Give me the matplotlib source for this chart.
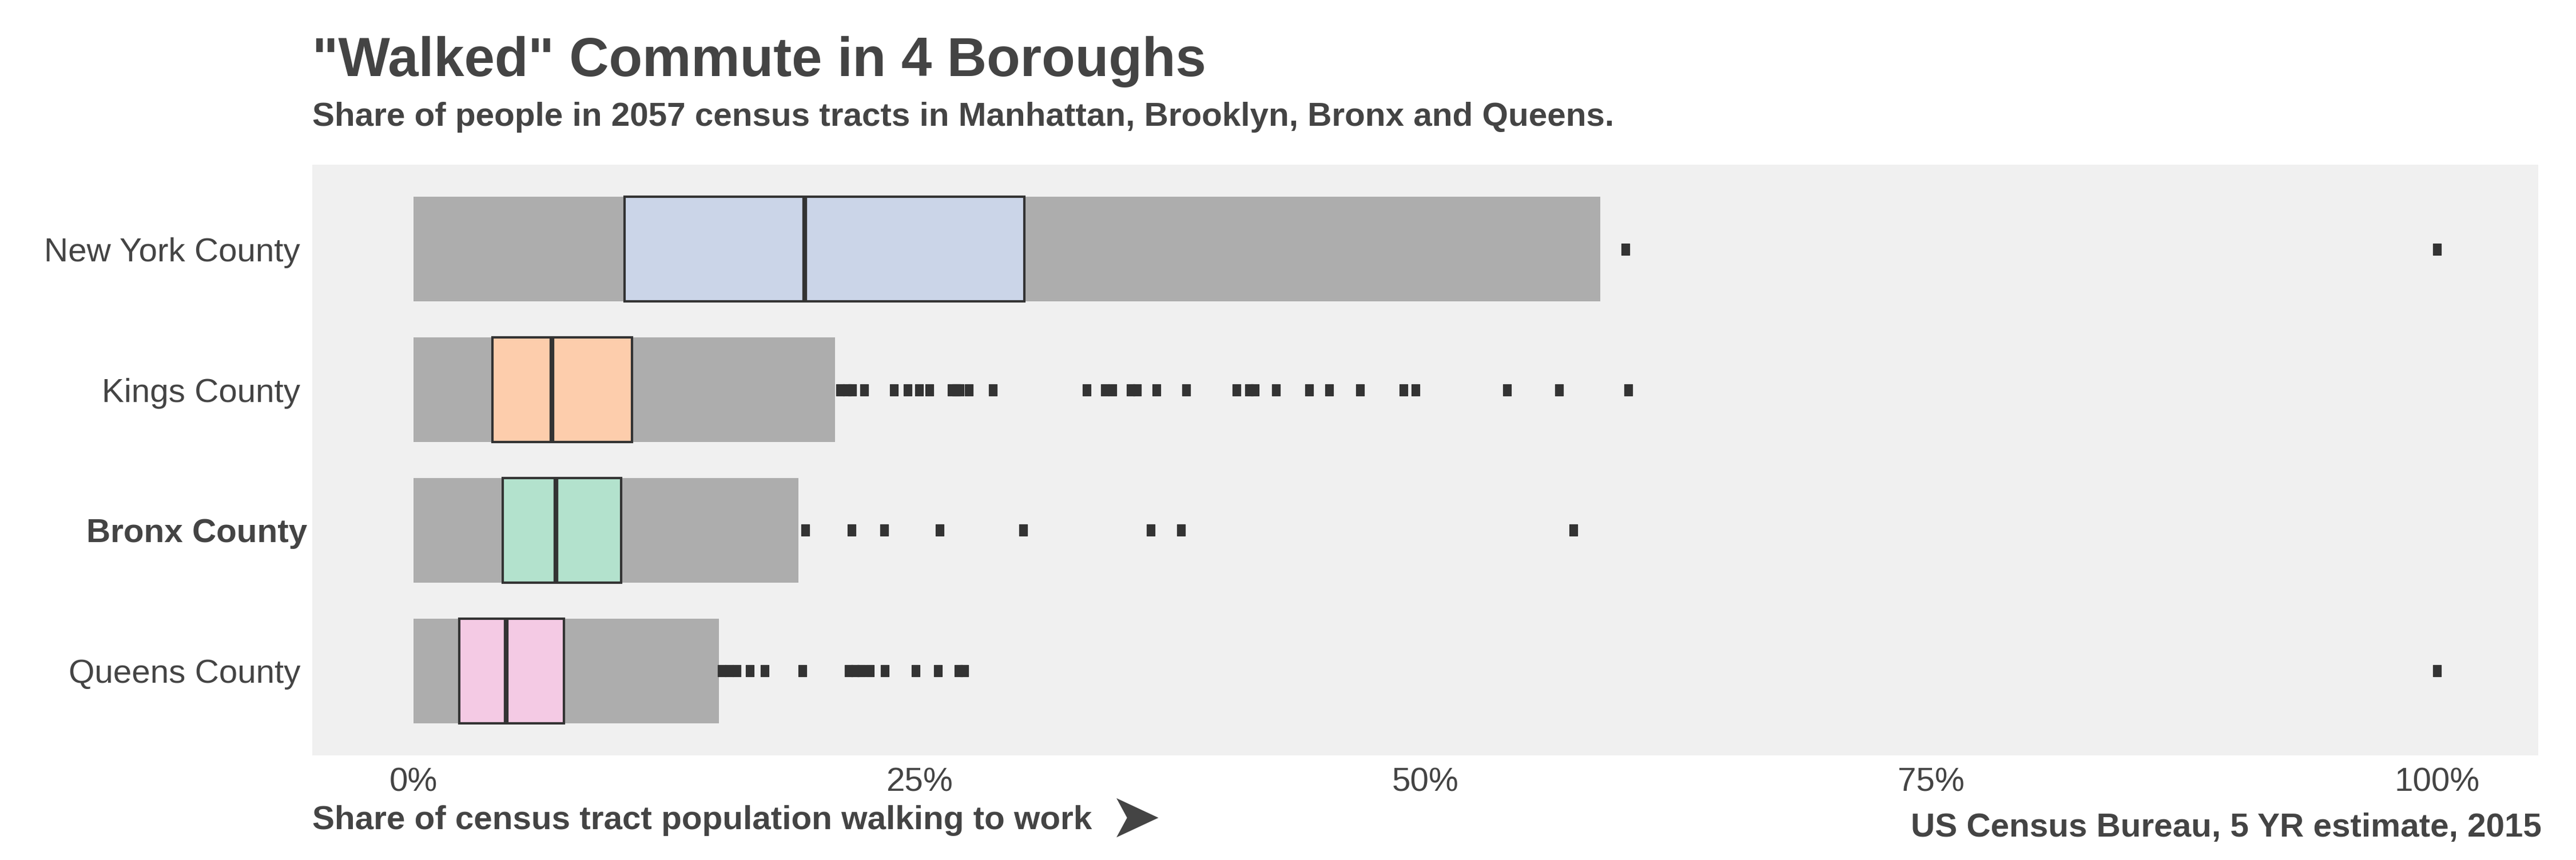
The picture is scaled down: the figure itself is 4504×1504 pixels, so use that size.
import numpy as np
import matplotlib.pyplot as plt
from matplotlib.path import Path
from matplotlib.transforms import ScaledTranslation

# =========================
# 기본 설정
# =========================
plt.rcParams['font.family'] = ['Liberation Sans', 'DejaVu Sans']
TEXT_COLOR = "#444444"
EDGE_COLOR = "#333333"

# =========================
# 데이터 (그림에서 읽은 값, 단위 %)
# =========================
counties = ["New York County", "Kings County", "Bronx County", "Queens County"]
box_colors = ["#cbd5e8", "#fdcdac", "#b3e2cd", "#f4cae4"]

whisker_lo = [0.0, 0.0, 0.0, 0.0]
q1 = [10.44, 3.90, 4.41, 2.28]
median = [19.34, 6.85, 7.04, 4.58]
q3 = [30.19, 10.80, 10.27, 7.44]
whisker_hi = [58.65, 20.85, 19.04, 15.09]

outliers_ny = [59.9, 100.0]
outliers_kings = [21.10, 21.42, 21.68, 22.29, 23.74, 24.43, 24.98, 25.50, 26.59,
                  26.82, 27.00, 27.46, 28.64, 33.26, 34.18, 34.55, 35.45, 35.76,
                  36.72, 38.19, 40.68, 41.31, 41.57, 42.64, 44.28, 45.26, 46.79,
                  48.93, 49.53, 54.06, 56.63, 60.04]
outliers_bronx = [19.38, 21.65, 23.27, 26.00, 30.14, 36.43, 37.93, 57.33]
outliers_queens = [15.24, 15.61, 15.98, 16.62, 17.35, 19.23, 21.52, 21.83, 22.14,
                   22.57, 23.30, 24.83, 25.91, 26.95, 27.23, 100.0]
outliers = [outliers_ny, outliers_kings, outliers_bronx, outliers_queens]

x_ticks = [0, 25, 50, 75, 100]
x_tick_labels = ["0%", "25%", "50%", "75%", "100%"]

BAR_H = 0.745

# 세로로 긴 사각형 마커
rect_marker = Path([(-0.34, -0.5), (0.34, -0.5), (0.34, 0.5), (-0.34, 0.5), (-0.34, -0.5)],
                   [Path.MOVETO, Path.LINETO, Path.LINETO, Path.LINETO, Path.CLOSEPOLY])

# =========================
# 그래프
# =========================
fig = plt.figure(figsize=(4504 / 300, 1504 / 300), dpi=300)
ax = fig.add_axes([0.1212, 0.1217, 0.9853 - 0.1212, 0.8085 - 0.1217])
ax.set_facecolor("#f0f0f0")

y = np.arange(len(counties))

# 수염 범위 (회색 막대)
ax.barh(y, np.array(whisker_hi) - np.array(whisker_lo), left=whisker_lo,
        height=BAR_H, color="#adadad", edgecolor="none", zorder=1)

# IQR 박스
ax.barh(y, np.array(q3) - np.array(q1), left=q1, height=BAR_H,
        color=box_colors, edgecolor=EDGE_COLOR, linewidth=1.0, zorder=2)

# 중앙값
for i, m in enumerate(median):
    ax.plot([m, m], [i - BAR_H / 2, i + BAR_H / 2], color=EDGE_COLOR,
            linewidth=2.0, solid_capstyle="butt", zorder=3)

# 이상치
for i, pts in enumerate(outliers):
    ax.plot(pts, [i] * len(pts), linestyle="none", marker=rect_marker,
            markersize=4.6, color=EDGE_COLOR, markeredgewidth=0.3, zorder=4)

ax.set_xlim(-5, 105)
ax.set_ylim(3.6, -0.6)
ax.set_xticks(x_ticks)
ax.set_xticklabels(x_tick_labels)
ax.set_yticks(y)
ax.set_yticklabels(counties)
ax.tick_params(length=0, labelsize=14, labelcolor=TEXT_COLOR)
ax.tick_params(axis="x", pad=5)
ax.tick_params(axis="y", pad=5)

# Bronx 강조 (굵게, 살짝 오른쪽)
bronx_lbl = ax.get_yticklabels()[2]
bronx_lbl.set_fontweight("bold")
bronx_lbl.set_transform(bronx_lbl.get_transform() + ScaledTranslation(3 / 72, 0, fig.dpi_scale_trans))

for s in ax.spines.values():
    s.set_visible(False)

# =========================
# 텍스트
# =========================
fig.text(0.1212, 1 - 133 / 1504, '"Walked" Commute in 4 Boroughs',
         fontsize=23, fontweight="bold", color=TEXT_COLOR, va="baseline")
fig.text(0.1212, 1 - 220 / 1504,
         "Share of people in 2057 census tracts in Manhattan, Brooklyn, Bronx and Queens.",
         fontsize=14, fontweight="bold", color=TEXT_COLOR, va="baseline")
fig.text(0.1212, 1 - 1450 / 1504, "Share of census tract population walking to work",
         fontsize=14, fontweight="bold", color=TEXT_COLOR, va="baseline")
fig.text(1940 / 4504, 1 - 1434 / 1504, "\u27a4", family="DejaVu Sans",
         fontsize=26, color=TEXT_COLOR, va="center", ha="left")
fig.text(0.9867, 1 - 1463 / 1504, "US Census Bureau, 5 YR estimate, 2015",
         fontsize=14, fontweight="bold", color=TEXT_COLOR, va="baseline", ha="right")

fig.savefig("out.png", dpi=300)
